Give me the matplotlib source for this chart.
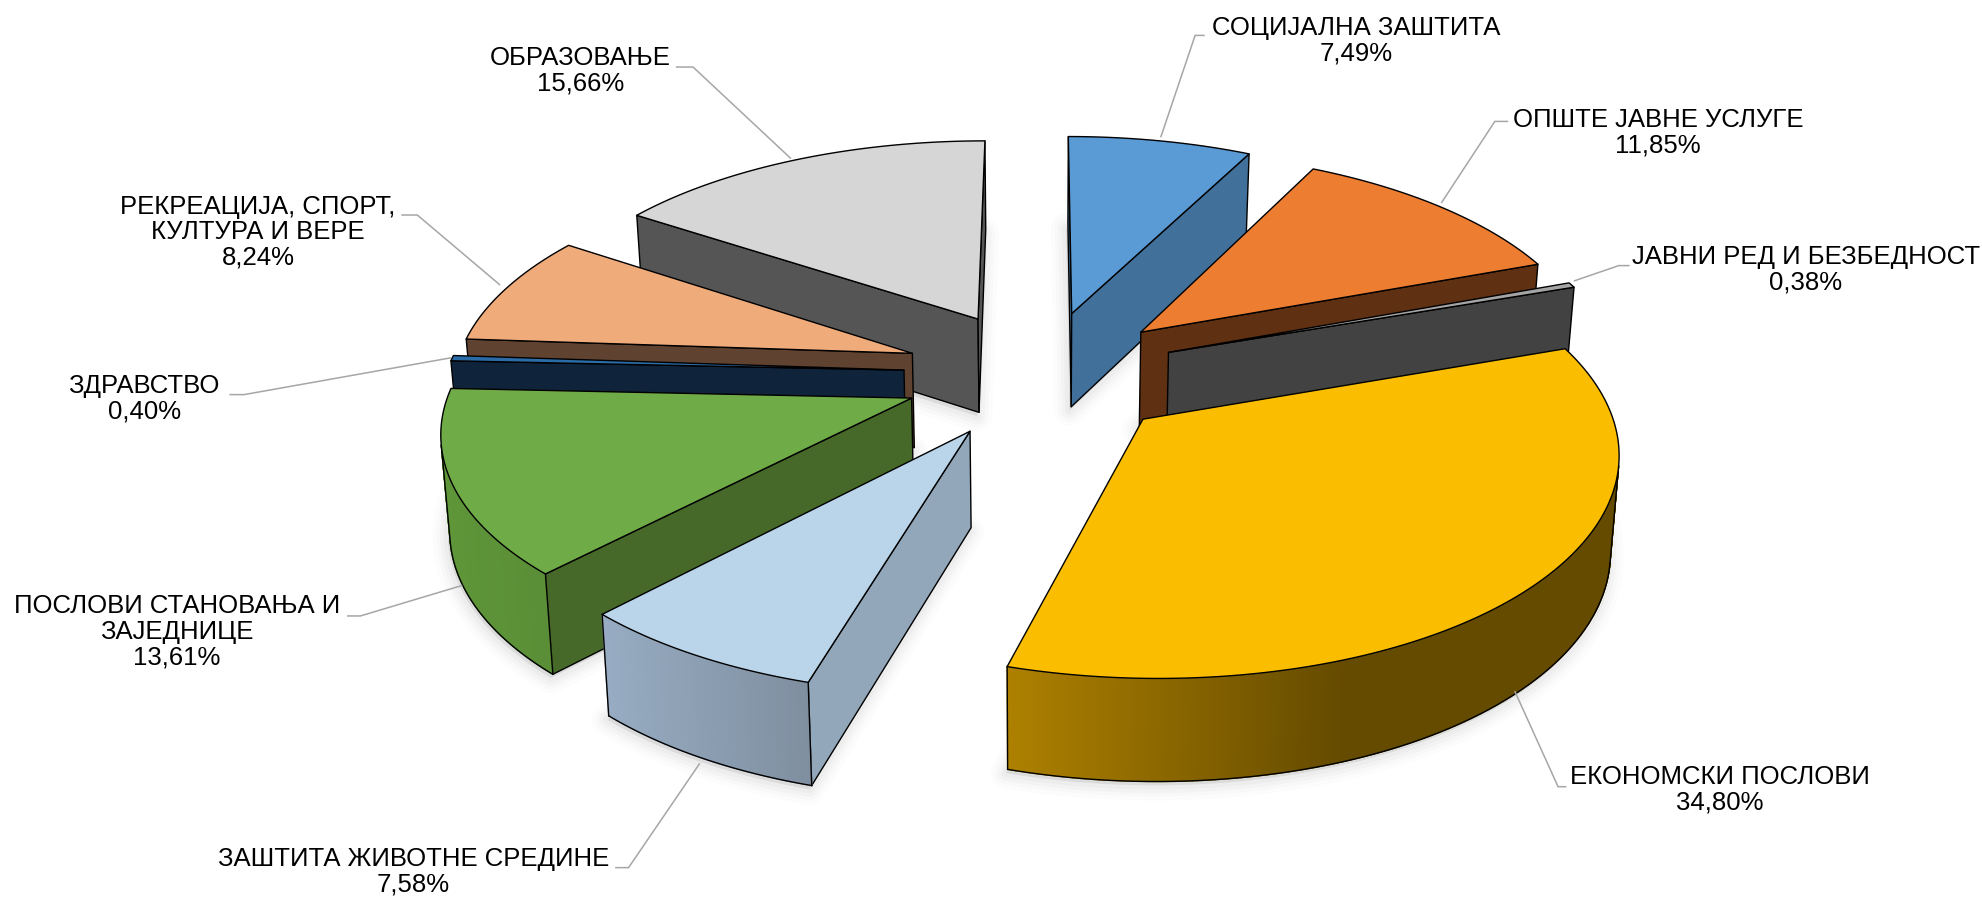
import numpy as np
import matplotlib
matplotlib.use("Agg")
import matplotlib.pyplot as plt
from matplotlib.colors import to_rgb

# ---- data ----
categories = ["СОЦИЈАЛНА ЗАШТИТА", "ОПШТЕ ЈАВНЕ УСЛУГЕ", "ЈАВНИ РЕД И БЕЗБЕДНОСТ",
              "ЕКОНОМСКИ ПОСЛОВИ", "ЗАШТИТА ЖИВОТНЕ СРЕДИНЕ",
              "ПОСЛОВИ СТАНОВАЊА И\nЗАЈЕДНИЦЕ", "ЗДРАВСТВО",
              "РЕКРЕАЦИЈА, СПОРТ,\nКУЛТУРА И ВЕРЕ", "ОБРАЗОВАЊЕ"]
values = [7.49, 11.85, 0.38, 34.80, 7.58, 13.61, 0.40, 8.24, 15.66]

# ---- style ----
top_colors = ["#5b9bd5", "#ed7d31", "#a5a5a5", "#fbbd00", "#bad5ea",
              "#6fab47", "#2a6ca8", "#f0ab7b", "#d6d6d6"]
face_colors = ["#41709b", "#5f3012", "#424242", "#654b00", "#92a7ba",
               "#46692a", "#0f243b", "#5f4230", "#555555"]
arc_colors = [("#41709b", "#41709b"), ("#5f3012", "#5f3012"), ("#424242", "#424242"),
              ("#ad8000", "#654b00"), ("#97acc2", "#7f8fa0"),
              ("#5f9639", "#5a8e37"), ("#0f243b", "#0f243b"), ("#5f4230", "#5f4230"),
              ("#555555", "#555555")]
draw_order = [8, 0, 1, 2, 7, 6, 5, 3, 4]
CX, CY, RX, RY, PERSP, EXPLODE, DEPTH, TAPER = 823, 295.5, 362, 169, 0.127, 0.30, 75, 0.015

# label centre x, first line y, leader polyline
label_layout = [
    (1072, 22, [(918, 108), (945, 28), (952, 28)]),
    (1311, 94, [(1140, 160), (1182, 96), (1192, 96)]),
    (1428, 203, [(1245, 222), (1280, 210), (1288, 210)]),
    (1360, 614, [(1198, 547), (1232, 622), (1238, 622)]),
    (327, 679, [(553, 604), (497, 686), (487, 686)]),
    (140, 479, [(365, 463), (285, 487), (275, 487)]),
    (114, 305, [(356, 283), (193, 312), (182, 312)]),
    (204, 163, [(395, 225), (330, 170), (318, 170)]),
    (459, 45, [(625, 125), (548, 53), (535, 53)]),
]

plt.rcParams["font.family"] = ["Liberation Sans", "DejaVu Sans"]
W, H = 1568, 710
fig = plt.figure(figsize=(19.83, 8.98), dpi=100, facecolor="white")
ax = fig.add_axes([0, 0, 1, 1])
ax.set_xlim(0, W)
ax.set_ylim(H, 0)
ax.axis("off")


def project(X, Y, z):
    s = 1.0 / (1.0 + PERSP * np.asarray(Y))
    x = CX + RX * np.asarray(X) * s
    y = CY - RY * np.asarray(Y) * s
    y = y + z * DEPTH * np.sqrt(s)
    x = CX + (x - CX) * (1 - TAPER * z)
    return np.column_stack([x, y])


def shoelace(p):
    x, y = p[:, 0], p[:, 1]
    return np.sum(x * np.roll(y, -1) - np.roll(x, -1) * y)


v = np.array(values)
edges = np.concatenate([[0], np.cumsum(v)]) / v.sum() * 2 * np.pi
LW = 1.0


def wedge(i):
    a0, a1 = edges[i], edges[i + 1]
    mid = (a0 + a1) / 2
    ox, oy = EXPLODE * np.sin(mid), EXPLODE * np.cos(mid)
    t = np.linspace(a0, a1, max(4, int((a1 - a0) * 120)))
    X = np.concatenate([[ox], ox + np.sin(t)])
    Y = np.concatenate([[oy], oy + np.cos(t)])
    return X, Y


# soft shadows, cast by the base of each slice
for i in range(len(v)):
    X, Y = wedge(i)
    bottom = project(X, Y, 1.0) + np.array([-1.5, 3])
    for lw, a in [(22, 0.012), (16, 0.015), (11, 0.02), (6, 0.025)]:
        ax.fill(bottom[:, 0], bottom[:, 1], fc=(0, 0, 0, a), ec=(0, 0, 0, a),
                lw=lw, joinstyle="round", zorder=1)

z = 2
for i in draw_order:
    X, Y = wedge(i)
    top, bot = project(X, Y, 0.0), project(X, Y, 1.0)
    n = len(X)
    # radial faces
    for a, b in [(0, 1), (n - 1, 0)]:
        quad = np.array([top[a], top[b], bot[b], bot[a]])
        if shoelace(quad) < 0:
            ax.fill(quad[:, 0], quad[:, 1], fc=face_colors[i], ec="black", lw=LW,
                    joinstyle="round", zorder=z)
            z += 1
    # outer rim, shaded across its visible width
    vis = [k for k in range(1, n - 1)
           if shoelace(np.array([top[k], top[k + 1], bot[k + 1], bot[k]])) < 0]
    if vis:
        xs = top[vis, 0]
        c0, c1 = map(np.array, map(to_rgb, arc_colors[i]))
        reach = 0.55 if i == 3 else 1.0
        for k in vis:
            f = (top[k, 0] - xs.min()) / max(xs.max() - xs.min(), 1) / reach
            f = min(f, 1.0)
            quad = np.array([top[k], top[k + 1], bot[k + 1], bot[k]])
            col = c0 + (c1 - c0) * f
            ax.fill(quad[:, 0], quad[:, 1], fc=col, ec=col, lw=1.0, zorder=z)
        z += 1
        idx = list(vis) + [vis[-1] + 1]
        ax.plot(bot[idx, 0], bot[idx, 1], color="black", lw=LW, zorder=z)
        for k in (idx[0], idx[-1]):
            ax.plot([top[k, 0], bot[k, 0]], [top[k, 1], bot[k, 1]], color="black", lw=LW, zorder=z)
        z += 1
    ax.fill(top[:, 0], top[:, 1], fc=top_colors[i], ec="black", lw=LW,
            joinstyle="round", zorder=z)
    z += 1

# labels and leader lines
for name, val, (lx, ly, pts) in zip(categories, values, label_layout):
    p = np.array(pts)
    ax.plot(p[:, 0], p[:, 1], color="#a6a6a6", lw=1.1, zorder=z, solid_joinstyle="miter")
    txt = f"{name}\n{val:.2f}%".replace(".", ",")
    ax.text(lx, ly - 9, txt, ha="center", va="top", fontsize=18.5, color="black",
            linespacing=1.08, zorder=z + 1)

fig.savefig("out.png", dpi=100, facecolor="white")
